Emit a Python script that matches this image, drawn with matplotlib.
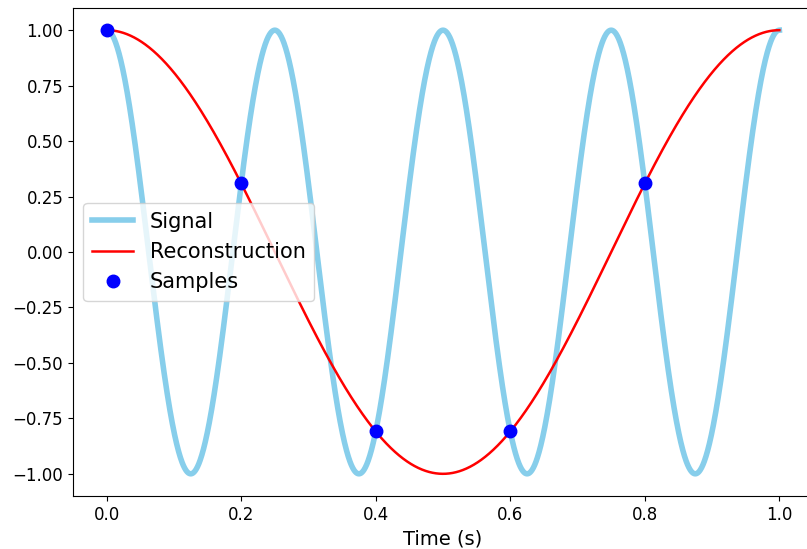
import numpy as np
import matplotlib
matplotlib.use("Agg")
import matplotlib.pyplot as plt

# signal parameters
signal_freq = 4.0          # Hz, cosine signal
recon_freq = 1.0           # Hz, aliased reconstruction
sample_times = [0.0, 0.2, 0.4, 0.6, 0.8]
sample_values = [1.0, 0.309, -0.809, -0.809, 0.309]

t = np.linspace(0, 1, 2000)
signal = np.cos(2 * np.pi * signal_freq * t)
recon = np.cos(2 * np.pi * recon_freq * t)

fig = plt.figure(figsize=(8.07, 5.49), dpi=100)
ax = fig.add_axes([73 / 807, 53 / 549, 740 / 807, 488 / 549])

ax.plot(t, signal, color="skyblue", linewidth=4, label="Signal")
ax.plot(t, recon, color="red", linewidth=1.8, label="Reconstruction")
ax.plot(sample_times, sample_values, "o", color="blue", markersize=9, label="Samples")

ax.set_xlim(-0.05, 1.05)
ax.set_ylim(-1.1, 1.1)
ax.set_xticks([0.0, 0.2, 0.4, 0.6, 0.8, 1.0])
ax.tick_params(labelsize=12)
ax.set_xlabel("Time (s)", fontsize=14)
ax.legend(loc="center left", fontsize=15)

fig.savefig("out.png", dpi=100)
